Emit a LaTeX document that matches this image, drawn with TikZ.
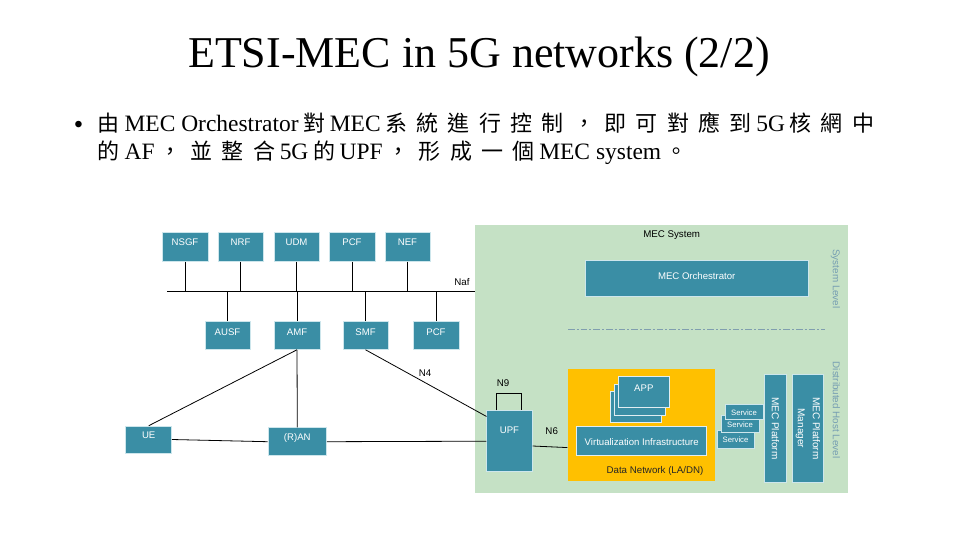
\documentclass[tikz,border=0pt]{standalone}
\usepackage{fontspec}
\setmainfont{Liberation Serif}
\setsansfont{Liberation Sans}
\newfontfamily\cjk{Noto Sans CJK TC}
\newdimen\pxu \pxu=0.75pt
\newdimen\cjp \cjp=31.3\pxu
\def\cjsEnd{CJSEND}
\def\cjsA#1{\ifx\cjsEnd#1\else\makebox[\cjp][c]{\cjk\fontsize{16.5}{18}\selectfont #1}\expandafter\cjsA\fi}
\newcommand\cjs[1]{\cjsA#1\cjsEnd}
\definecolor{teal1}{RGB}{58,142,165}
\definecolor{edge1}{RGB}{205,230,236}
\definecolor{green1}{RGB}{197,225,197}
\definecolor{yellow1}{RGB}{255,192,0}
\definecolor{lvlc}{RGB}{118,158,178}
\definecolor{dashc}{RGB}{128,158,175}
\tikzset{wh/.style n args={3}{minimum width=#1\pxu, text height=#2\pxu, text depth=#3\pxu}}
\begin{document}
\begin{tikzpicture}[x=0.75pt,y=-0.75pt,
  nf/.style={fill=teal1, draw=edge1, line width=0.4pt, inner sep=0pt, text=white, font=\sffamily\fontsize{7.2}{8}\selectfont},
  ln/.style={line width=0.6pt, draw=black},
  lbl/.style={font=\sffamily\fontsize{7.3}{9}\selectfont, inner sep=0pt},
  lvl/.style={font=\sffamily\fontsize{7.4}{9}\selectfont, text=lvlc, rotate=-90, inner sep=0pt},
  dashline/.style={draw=dashc, line width=0.5pt, dash pattern=on 5pt off 1.5pt on 1.5pt off 1.5pt}]
\useasboundingbox[fill=white] (0,0) rectangle (960,540);

% title and text
\node[anchor=base, inner sep=0pt, font=\fontsize{33}{40}\selectfont] (title) at (479,67.7) {ETSI-MEC in 5G networks (2/2)};
\node[anchor=base, inner sep=0pt, font=\sffamily\fontsize{18}{18}\selectfont] (bul) at (78.5,132) {•};
\node[anchor=base west, inner sep=0pt, font=\fontsize{17.6}{21}\selectfont] (l1) at (93,131)
  {\cjs{由}MEC Orchestrator\cjs{對}MEC\cjs{系統進行控制，即可對應到}5G\cjs{核網中}};
\node[anchor=base west, inner sep=0pt, font=\fontsize{17.6}{21}\selectfont] (l2) at (93,159)
  {\cjs{的}AF\cjs{，並整合}5G\cjs{的}UPF\cjs{，形成一個}MEC system\cjs{。}};

% MEC system background
\node[fill=green1, inner sep=0pt, minimum width=373\pxu, minimum height=268\pxu, anchor=north west] (mecsys) at (475,225) {};
\node[lbl] (mst) at (671.7,235.5) {MEC System};
\node[nf, wh={223.3}{19.3}{16}, font=\sffamily\fontsize{7.2}{8}\selectfont] (orch) at (696.7,278.3) {MEC Orchestrator};
\node[lvl] (syslvl) at (835.5,279) {System Level};
\coordinate (dl) at (568,329.3);
\coordinate (dr) at (825,329.3);
\draw[dashline] (dl) -- (dr);
\node[lvl] (dhl) at (836.5,410) {Distributed Host Level};

% data network
\node[fill=yellow1, inner sep=0pt, minimum width=147.7\pxu, minimum height=112.4\pxu, anchor=north west] (DN) at (567.3,368.3) {};
\node[lbl, text=black!85] (dnl) at (655,470.5) {Data Network (LA/DN)};
\node[nf, draw=white!85!teal1, line width=0.6pt, wh={51}{14.3}{16.7}] (app3) at (636.2,406.5) {};
\node[nf, draw=white!85!teal1, line width=0.6pt, wh={51}{14.3}{16.7}] (app2) at (640,399.5) {};
\node[nf, draw=white!85!teal1, line width=0.6pt, wh={51}{14.3}{16.7}, font=\sffamily\fontsize{7.2}{8}\selectfont] (app1) at (643.8,392.2) {APP};
\node[nf, draw=white!85!teal1, line width=0.6pt, wh={130}{18.3}{10.7}, font=\sffamily\fontsize{7.2}{8}\selectfont] (virt) at (641.7,441.2) {Virtualization Infrastructure};

% services
\node[nf, wh={37}{12.7}{5.3}, font=\sffamily\fontsize{5.8}{7}\selectfont] (srv3) at (735.5,439) {Service};
\node[nf, wh={38}{12.3}{4.7}, font=\sffamily\fontsize{5.8}{7}\selectfont] (srv2) at (740,423.5) {Service};
\node[nf, wh={38}{11}{4}, font=\sffamily\fontsize{5.8}{7}\selectfont] (srv1) at (744,411.5) {Service};

% platform
\node[nf, rotate=-90, minimum width=108.7\pxu, minimum height=22.7\pxu, font=\sffamily\fontsize{7.5}{9}\selectfont] (mecp) at (775.35,428.35) {MEC Platform};
\node[nf, rotate=-90, minimum width=108.7\pxu, minimum height=30.6\pxu, align=center, font=\sffamily\fontsize{7.5}{11.25}\selectfont] (mecpm) at (808,428.35) {MEC Platform\\Manager};

% 5G core top row
\node[nf, wh={46}{13}{16}] (NSGF) at (185,246.75) {NSGF};
\node[nf, wh={45}{13}{16}] (NRF) at (240.5,246.75) {NRF};
\node[nf, wh={45}{13}{16}] (UDM) at (296.5,246.75) {UDM};
\node[nf, wh={46}{13}{16}] (PCF) at (352,246.75) {PCF};
\node[nf, wh={45}{13}{16}] (NEF) at (407.5,246.75) {NEF};

% bus
\coordinate (busL) at (167,291);
\coordinate (busR) at (475,291);
\draw[ln] (busL) -- (busR);
\node[lbl] (naf) at (462,282) {Naf};

% lower row
\node[nf, wh={45}{13.5}{14.5}] (AUSF) at (227.5,335.5) {AUSF};
\node[nf, wh={46}{13.5}{14.5}] (AMF) at (297,335.5) {AMF};
\node[nf, wh={45}{13.5}{14.5}] (SMF) at (365.5,335.5) {SMF};
\node[nf, wh={46}{13.5}{14.5}] (PCF2) at (436,335.5) {PCF};

% access
\node[nf, wh={46}{12.3}{14.7}] (UE) at (148.7,439.5) {UE};
\node[nf, wh={58.7}{12.3}{15.7}] (RAN) at (297.3,441.7) {(R)AN};
\node[nf, wh={45.6}{22.6}{38.4}] (UPF) at (509.5,441.2) {UPF};

% connectors to bus
\foreach \n in {NSGF,NRF,UDM,PCF,NEF}{\draw[ln] (\n.south) -- (\n.south |- busL);}
\foreach \n in {AUSF,AMF,SMF,PCF2}{\draw[ln] (\n.north) -- (\n.north |- busL);}

% other connectors
\draw[ln] (AMF.south) -- (UE.north);
\draw[ln] (AMF.south) -- (RAN.north);
\draw[ln] (SMF.south) -- ([yshift=-4.5pt]UPF.north west);
\draw[ln] (UE.east) -- (RAN.west);
\draw[ln] (RAN.east) -- (UPF.west);
\draw[ln] ([xshift=-9.6pt]UPF.north) -- ++(0,-17.4) -- ++(25,0) -- ++(0,17.4);
\draw[ln] ([yshift=-3.6pt]UPF.east) -- ([yshift=-17.1pt]DN.west);
\node[lbl] (n4) at (425,373) {N4};
\node[lbl] (n9) at (503,382.7) {N9};
\node[lbl] (n6) at (551.7,431) {N6};
\end{tikzpicture}
\end{document}
